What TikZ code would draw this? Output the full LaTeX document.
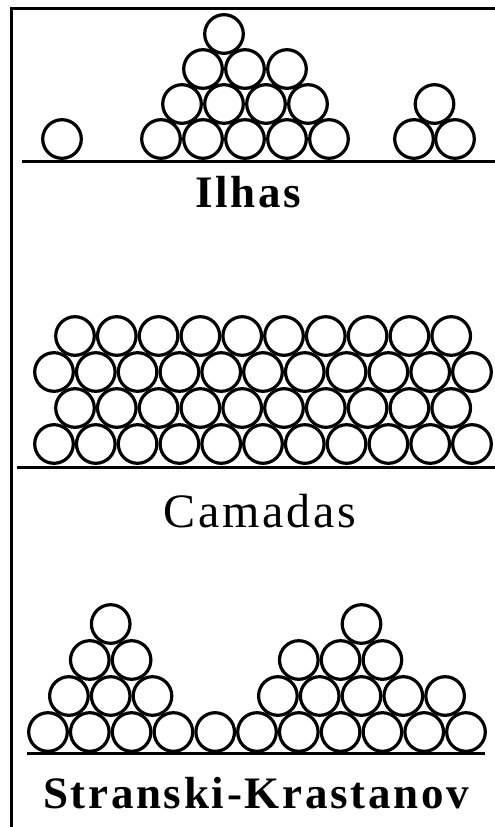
\documentclass[tikz,border=0pt]{standalone}
\usepackage{fontspec}
\setmainfont{Liberation Serif}
\newfontfamily\capfont[LetterSpace=6]{Liberation Serif}

\tikzset{
  ball/.style={draw, line width=3.2pt},
  ground/.style={line width=3pt},
  caption/.style={anchor=base, inner sep=0pt, font=\capfont\fontsize{45}{50}\selectfont\bfseries},
  plaincaption/.style={anchor=base, inner sep=0pt, font=\capfont\fontsize{48}{54}\selectfont},
}

\begin{document}
\begin{tikzpicture}[x=1pt, y=-1pt]
    \useasboundingbox (0,0) rectangle (495,827);

    % Frame
    \coordinate (frameTop) at (495,8);
    \coordinate (frameCorner) at (11.5,8);
    \coordinate (frameBottom) at (11.5,827);
    \draw[ground] (frameTop) -- (frameCorner) -- (frameBottom);

    % Islands
    \draw[ground] (22,161) -- (495,161);
    \draw[ball] (62,139) circle[radius=19.3pt];
    \foreach \n/\y in {5/139, 4/104, 3/69}
        \foreach \i in {1,...,\n}
            \draw[ball] ({161+21*(5-\n)+42*(\i-1)},\y) circle[radius=19.3pt];
    \draw[ball] (224,34) circle[radius=19.3pt];
    \draw[ball] (414,139) circle[radius=19.3pt];
    \draw[ball] (455,139) circle[radius=19.3pt];
    \draw[ball] (434.5,104) circle[radius=19.3pt];
    \node[caption] (ilhas) at (248,207) {Ilhas};

    % Layers
    \draw[ground] (17,467) -- (495,467);
    \foreach \y in {444, 372}
        \foreach \i in {0,...,10}
            \draw[ball] ({54+41.8*\i},\y) circle[radius=19.3pt];
    \foreach \y in {408, 336}
        \foreach \i in {0,...,9}
            \draw[ball] ({75+41.8*\i},\y) circle[radius=19.3pt];
    \node[plaincaption] (camadas) at (260,527) {Camadas};

    % Layer plus islands
    \draw[ground] (27,753) -- (485,753);
    \foreach \i in {0,...,10}
        \draw[ball] ({48+41.8*\i},732) circle[radius=19.3pt];
    % left island
    \foreach \n/\y/\s in {3/696/0.5, 2/660/1, 1/624/1.5}
        \foreach \i in {1,...,\n}
            \draw[ball] ({48+41.8*(\s+\i-1)},\y) circle[radius=19.3pt];
    % right island
    \foreach \n/\y/\s in {5/696/5.5, 3/660/6, 1/624/7.5}
        \foreach \i in {1,...,\n}
            \draw[ball] ({48+41.8*(\s+\i-1)},\y) circle[radius=19.3pt];
    \node[caption] (sk) at (256,808) {Stranski-Krastanov};
\end{tikzpicture}
\end{document}
